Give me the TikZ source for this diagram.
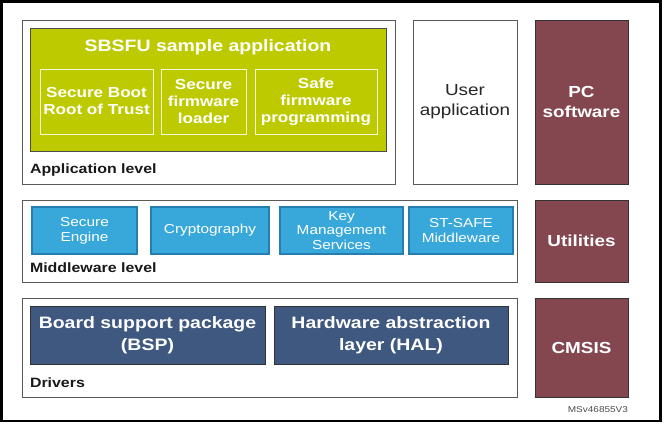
\documentclass[tikz,border=0pt]{standalone}
\usepackage{fontspec}
\setmainfont{Liberation Sans}[FakeStretch=1.18]
\begin{document}
\begin{tikzpicture}[x=1pt,y=-1pt,
  every node/.style={inner sep=0pt, outer sep=0pt},
  levelbox/.style={draw=black!65, line width=0.9pt, fill=white, anchor=north west},
  greenbox/.style={draw=black!70, line width=1pt, fill=sbgreen, anchor=north west},
  subbox/.style={draw=white!85!sbgreen, line width=0.9pt, anchor=north west, align=center,
     text=white, font=\fontsize{14.5}{17}\selectfont\bfseries},
  mwbox/.style={draw=mwborder, line width=1.3pt, fill=mwblue, anchor=north west, align=center,
     text=white, font=\fontsize{13}{15}\selectfont},
  drvbox/.style={draw=black!80, line width=0.8pt, fill=drvblue, anchor=north west, align=center,
     text=white, font=\fontsize{16.5}{21.5}\selectfont\bfseries},
  sidebox/.style={draw=black!80, line width=0.8pt, fill=maroon, anchor=north west, align=center,
     text=white, font=\fontsize{16}{20}\selectfont\bfseries},
  levellabel/.style={anchor=west, font=\fontsize{13.5}{16}\selectfont\bfseries, text=black!90}
]
\definecolor{sbgreen}{RGB}{189,202,0}
\definecolor{mwblue}{RGB}{56,168,219}
\definecolor{mwborder}{RGB}{38,125,175}
\definecolor{drvblue}{RGB}{62,88,128}
\definecolor{maroon}{RGB}{132,71,80}
\useasboundingbox (0,0) rectangle (664,424);
\draw[line width=2.6pt] (1.5,1.5) rectangle (660.5,421);

% Application level
\node[levelbox, minimum width=373pt, minimum height=164pt] (app) at (22,20) {};
\node[greenbox, minimum width=356pt, minimum height=123pt] (sbsfu) at (30,28) {};
\node[text=white, font=\fontsize{16.5}{20}\selectfont\bfseries] (sbtitle) at (208,47.5) {SBSFU sample application};
\node[subbox, minimum width=113pt, minimum height=65pt] (sb1) at (40,69) {Secure Boot\\Root of Trust};
\node[subbox, minimum width=85pt, minimum height=65pt] (sb2) at (161,69) {Secure\\firmware\\loader};
\node[subbox, minimum width=122pt, minimum height=65pt] (sb3) at (255,69) {Safe\\firmware\\programming};
\node[levellabel] (applabel) at (30,170) {Application level};

\node[levelbox, minimum width=104pt, minimum height=164pt, align=center, text=black!85,
  font=\fontsize{16}{20}\selectfont] (user) at (413,20) {User\\application};
\node[sidebox, minimum width=93pt, minimum height=164pt] (pc) at (535,20) {PC\\software};

% Middleware level
\node[levelbox, minimum width=495pt, minimum height=82pt] (mw) at (22,200) {};
\node[mwbox, minimum width=105pt, minimum height=47pt] (se) at (32,207) {Secure\\Engine};
\node[mwbox, minimum width=118pt, minimum height=47pt] (cr) at (151,207) {Cryptography};
\node[mwbox, minimum width=123pt, minimum height=47pt, font=\fontsize{13}{14.3}\selectfont] (km) at (280,207) {Key\\Management\\Services};
\node[mwbox, minimum width=104pt, minimum height=47pt] (st) at (409,207) {ST-SAFE\\Middleware};
\node[levellabel] (mwlabel) at (30,268) {Middleware level};
\node[sidebox, minimum width=93pt, minimum height=82pt] (util) at (535,200) {Utilities};

% Drivers
\node[levelbox, minimum width=495pt, minimum height=99pt] (drv) at (22,298) {};
\node[drvbox, minimum width=235pt, minimum height=58pt] (bsp) at (30,306) {Board support package\\(BSP)};
\node[drvbox, minimum width=234pt, minimum height=58pt] (hal) at (274,306) {Hardware abstraction\\layer (HAL)};
\node[levellabel] (drvlabel) at (30,383) {Drivers};
\node[sidebox, minimum width=93pt, minimum height=99pt] (cmsis) at (535,298) {CMSIS};

\node[anchor=east, font=\fontsize{8.5}{10}\selectfont, text=black!70] (ref) at (628,410) {MSv46855V3};
\end{tikzpicture}
\end{document}
